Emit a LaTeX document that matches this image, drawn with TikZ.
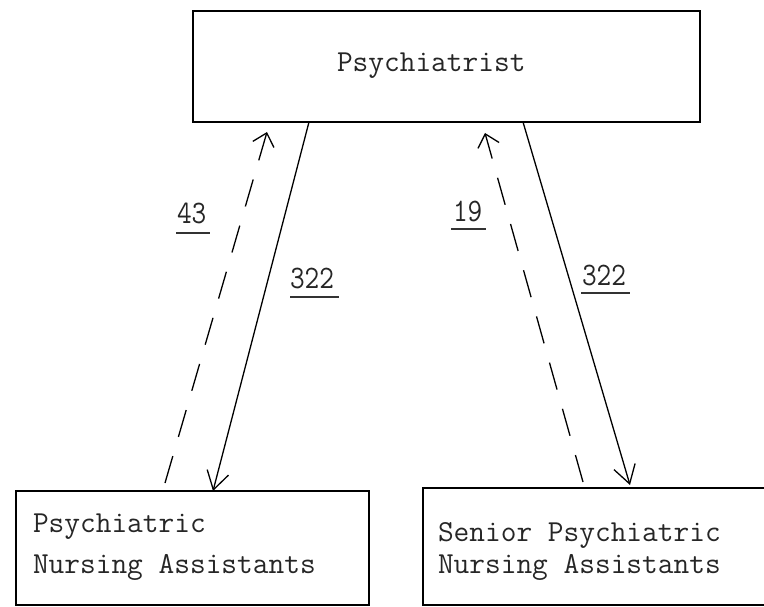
\documentclass[tikz,border=0pt]{standalone}
\usepackage{graphicx}
\usetikzlibrary{arrows.meta,calc}

\tikzset{
  box/.style={draw, line width=1.8pt, rectangle, inner sep=0pt, outer sep=0pt},
  label text/.style={inner sep=0pt, outer sep=0pt, anchor=base west, text=black!85,
    font=\fontsize{30.5}{34}\ttfamily},
  count/.style={inner sep=0pt, outer sep=0pt, anchor=base west, text=black!85,
    font=\fontsize{28.5}{32}\ttfamily},
  uline/.style={line width=1.6pt, black!80},
  flow/.style={line width=1.3pt, -{Straight Barb[length=18pt,width=22pt,line width=1.3pt]}},
  reply/.style={line width=1.3pt, dash pattern=on 28pt off 20pt,
    -{Straight Barb[length=12pt,width=22pt,line width=1.3pt]}}
}

\begin{document}
\begin{tikzpicture}[x=1pt,y=-1pt]
  \useasboundingbox (0,0) rectangle (764,607);
  \clip (0,0) rectangle (764,607);

  % the three boxes
  \node[box, minimum width=507pt, minimum height=111pt] (psy) at (446.5,66.5) {};
  \node[box, minimum width=353pt, minimum height=114pt] (pna) at (192.5,548) {};
  \node[box, minimum width=367pt, minimum height=117pt] (spna) at (606.5,546.5) {};

  % box texts
  \node[label text] (tpsy) at (337,72) {Psychiatrist};
  \node[label text] (tpna1) at (33,532) {Psychiatric};
  \node[label text] (tpna2) at (33,573) {Nursing Assistants};
  \node[label text] (tspna1) at (438,541) {Senior Psychiatric};
  \node[label text] (tspna2) at (438,573) {Nursing Assistants};

  % connection end points on the box borders
  \coordinate (psyL) at ($(psy.south west)+(116,0)$);
  \coordinate (psyLd) at ($(psy.south west)+(74,10)$);
  \coordinate (psyR) at ($(psy.south west)+(330,0)$);
  \coordinate (psyRd) at ($(psy.south west)+(292,11)$);
  \coordinate (pnaS) at ($(pna.north west)+(197,0)$);
  \coordinate (pnaD) at ($(pna.north west)+(149,-8)$);
  \coordinate (spnaS) at ($(spna.north west)+(207,-3)$);
  \coordinate (spnaD) at ($(spna.north west)+(160,-6)$);

  % psychiatrist to assistants (solid) and back (dashed)
  \draw[flow] (psyL) -- (pnaS);
  \draw[reply] (pnaD) -- (psyLd);
  \draw[flow] (psyR) -- (spnaS);
  \draw[reply] (spnaD) -- (psyRd);

  % counts, underlined
  \node[count, yscale=1.15] (n43) at (177,224) {43};
  \draw[uline] ($(n43.base west)+(-1,9)$) -- ($(n43.base east)+(4,9)$);
  \node[count, yscale=1.15] (n322a) at (290,288) {322};
  \draw[uline] ($(n322a.base west)+(0,9)$) -- ($(n322a.base east)+(5,9)$);
  \node[count, yscale=1.15] (n19) at (453,222) {19};
  \draw[uline] ($(n19.base west)+(-2,7)$) -- ($(n19.base east)+(4,7)$);
  \node[count, yscale=1.15] (n322b) at (582,285) {322};
  \draw[uline] ($(n322b.base west)+(-1,8)$) -- ($(n322b.base east)+(4,8)$);
\end{tikzpicture}
\end{document}
